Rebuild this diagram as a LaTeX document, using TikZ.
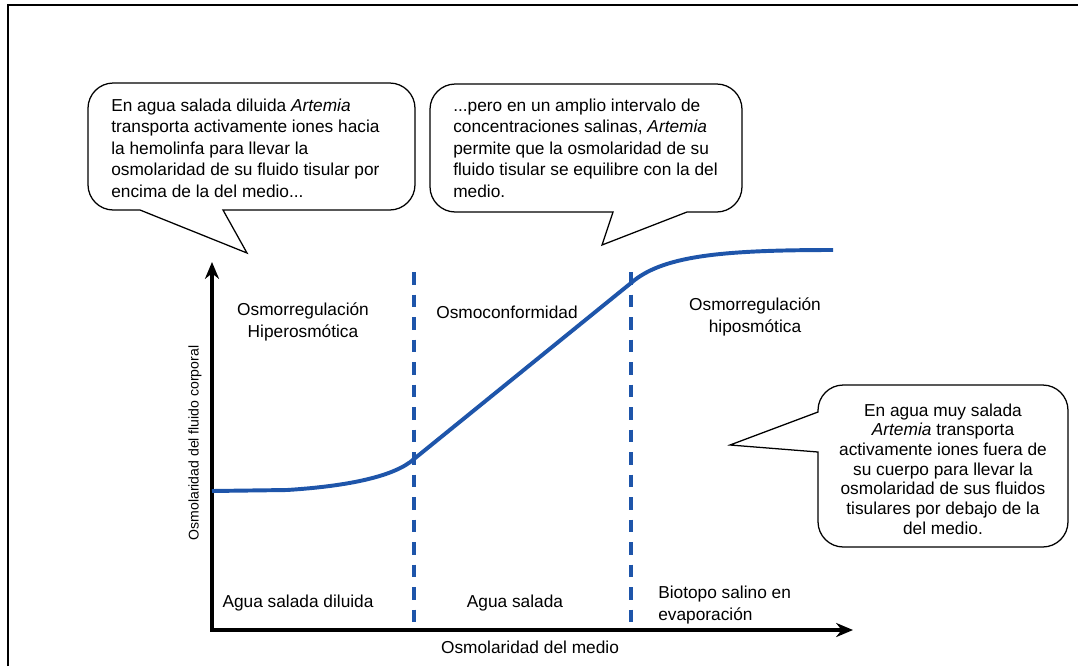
\documentclass[tikz,border=0pt]{standalone}
\usepackage{fontspec}
\setmainfont{Liberation Sans}
\usetikzlibrary{arrows.meta}

\definecolor{curveblue}{RGB}{30,85,170}

\tikzset{every node/.style={inner sep=0pt, font=\fontsize{12.3}{15.3}\selectfont}}
\tikzset{bubble/.style={draw, line width=0.9pt, fill=white}}
\tikzset{axis/.style={line width=2.4pt, {Stealth[length=12pt, width=10pt]}-{Stealth[length=12pt, width=10pt]}}}
\tikzset{divider/.style={draw=curveblue, line width=2.8pt, dash pattern=on 9pt off 7pt}}
\tikzset{curve/.style={draw=curveblue, line width=2.8pt, line join=round}}

\begin{document}
\begin{tikzpicture}[x=0.025cm, y=-0.025cm]
			\useasboundingbox (0,0) rectangle (1078,666);
			\draw[line width=1.4pt] (8,666) -- (8,5) -- (1078,5);
			
			\draw[bubble] (247,253) -- (223,210) [rounded corners=18] -- (415,210) -- (415,83) -- (88,83) -- (88,210) [sharp corners] -- (140,210) -- cycle;
			\draw[bubble] (602,245) -- (687,212) [rounded corners=18] -- (742,212) -- (742,84) -- (430,84) -- (430,212) [sharp corners] -- (613,212) -- cycle;
			\draw[bubble] (730,445) -- (818,452) [rounded corners=18] -- (818,547) -- (1068,547) -- (1068,385) -- (818,385) [sharp corners] -- (818,412) -- cycle;
			
			\node[anchor=west, align=left] (N1) at (111,148) {En agua salada diluida \textit{Artemia}\\transporta activamente iones hacia\\la hemolinfa para llevar la\\osmolaridad de su fluido tisular por\\encima de la del medio...};
			\node[anchor=west, align=left] (N2) at (453,148) {...pero en un amplio intervalo de\\concentraciones salinas, \textit{Artemia}\\permite que la osmolaridad de su\\fluido tisular se equilibre con la del\\medio.};
			\node[align=center, font=\fontsize{12.3}{14}\selectfont] (N3) at (943,469) {En agua muy salada\\\textit{Artemia} transporta\\activamente iones fuera de\\su cuerpo para llevar la\\osmolaridad de sus fluidos\\tisulares por debajo de la\\del medio.};
			
			\coordinate (O) at (212,630);
			\coordinate (Ytop) at (212,262);
			\coordinate (Xend) at (853,630);
			\draw[axis] (Ytop) -- (O) -- (Xend);
			
			\coordinate (D1top) at (414,272);
			\coordinate (D1bot) at (414,622);
			\coordinate (D2top) at (631,272);
			\coordinate (D2bot) at (631,622);
			\draw[divider] (D1top) -- (D1bot);
			\draw[divider] (D2top) -- (D2bot);
			
			\draw[curve] (212,491) -- (287,490) .. controls (350,486) and (395,476) .. (414,459) -- (631,283) .. controls (662,256) and (720,250) .. (833,250);
			
			\node[align=center] (R1) at (303,322) {Osmorregulación\\Hiperosmótica};
			\node (R2) at (507,312) {Osmoconformidad};
			\node[align=center] (R3) at (755,317) {Osmorregulación\\hiposmótica};
			
			\node (B1) at (298,603) {Agua salada diluida};
			\node (B2) at (515,603) {Agua salada};
			\node[anchor=west, align=left] (B3) at (658,605) {Biotopo salino en\\evaporación};
			
			\node (Xlabel) at (530,647) {Osmolaridad del medio};
			\node[rotate=90, font=\fontsize{10}{12}\selectfont] (Ylabel) at (195,443) {Osmolaridad del fluido corporal};
		\end{tikzpicture}
\end{document}
